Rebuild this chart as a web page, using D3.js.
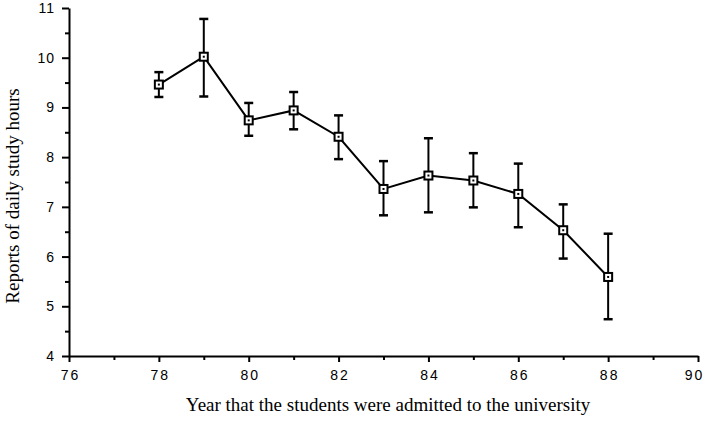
<!DOCTYPE html>
<html>
<head>
<meta charset="utf-8">
<script src="https://cdn.jsdelivr.net/npm/d3@7"></script>
<style>
  body { margin: 0; background: #fff; }
  .title { font-family: "Liberation Serif", "Times New Roman", serif; font-size: 19px; fill: #000; }
</style>
</head>
<body>
<div class="chart"></div>
<script>
const years = [78, 79, 80, 81, 82, 83, 84, 85, 86, 87, 88];
const means = [9.46, 10.02, 8.74, 8.94, 8.41, 7.36, 7.63, 7.53, 7.26, 6.53, 5.59];
const upper = [9.71, 10.78, 9.09, 9.31, 8.84, 7.92, 8.38, 8.08, 7.87, 7.05, 6.46];
const lower = [9.21, 9.22, 8.43, 8.56, 7.96, 6.83, 6.89, 6.99, 6.59, 5.96, 4.74];

const xMajor = [76, 78, 80, 82, 84, 86, 88, 90];
const xMinor = [77, 79, 81, 83, 85, 87, 89];
const yMajor = [4, 5, 6, 7, 8, 9, 10, 11];
const yMinor = [4.5, 5.5, 6.5, 7.5, 8.5, 9.5, 10.5];

const width = 706;
const height = 423;
const margin = { top: 8, right: 8, bottom: 67, left: 69 };

const data = years.map((y, i) => ({ year: y, mean: means[i], hi: upper[i], lo: lower[i] }));

const svg = d3
  .select(".chart")
  .append("svg")
  .attr("width", width)
  .attr("height", height);

const xScale = d3.scaleLinear().domain([76, 90]).range([margin.left, width - margin.right]);
const yScale = d3.scaleLinear().domain([4, 11]).range([height - margin.bottom, margin.top]);

// minor ticks first, then major ones with labels
svg.append("g")
  .attr("transform", `translate(0, ${height - margin.bottom})`)
  .call(d3.axisBottom(xScale).tickValues(xMinor).tickSize(4).tickFormat(""))
  .call((g) => g.select(".domain").remove());

svg.append("g")
  .attr("id", "x-axis")
  .attr("transform", `translate(0, ${height - margin.bottom})`)
  .call(d3.axisBottom(xScale).tickValues(xMajor).tickSize(6).tickSizeOuter(0).tickPadding(8).tickFormat(d3.format("d")));

svg.append("g")
  .attr("transform", `translate(${margin.left}, 0)`)
  .call(d3.axisLeft(yScale).tickValues(yMinor).tickSize(4).tickFormat(""))
  .call((g) => g.select(".domain").remove());

svg.append("g")
  .attr("id", "y-axis")
  .attr("transform", `translate(${margin.left}, 0)`)
  .call(d3.axisLeft(yScale).tickValues(yMajor).tickSize(7).tickSizeOuter(0).tickPadding(7).tickFormat(d3.format("d")));

svg.selectAll(".domain").attr("stroke-width", 2);
svg.selectAll(".tick line").attr("stroke-width", 2);
svg.selectAll(".tick text")
  .style("font-family", "'Liberation Sans', Arial, sans-serif")
  .style("font-size", "14px")
  .style("fill", "#000");
svg.selectAll("#x-axis .tick text")
  .style("letter-spacing", "2px")
  .attr("dx", (d) => (d === 90 ? "-4px" : "1px"));
svg.selectAll("#y-axis .tick text").style("letter-spacing", "1px");

// line
const line = d3.line().x((d) => xScale(d.year)).y((d) => yScale(d.mean));
svg.append("path")
  .datum(data)
  .attr("fill", "none")
  .attr("stroke", "#000")
  .attr("stroke-width", 2)
  .attr("d", line);

// error bars
const bars = svg.append("g").selectAll("g").data(data).enter().append("g");
bars.append("line")
  .attr("x1", (d) => xScale(d.year))
  .attr("x2", (d) => xScale(d.year))
  .attr("y1", (d) => yScale(d.hi))
  .attr("y2", (d) => yScale(d.lo))
  .attr("stroke", "#000")
  .attr("stroke-width", 2);
["hi", "lo"].forEach((k) => {
  bars.append("line")
    .attr("x1", (d) => xScale(d.year) - 4.5)
    .attr("x2", (d) => xScale(d.year) + 4.5)
    .attr("y1", (d) => yScale(d[k]))
    .attr("y2", (d) => yScale(d[k]))
    .attr("stroke", "#000")
    .attr("stroke-width", 2.5);
});

// square markers with a dot in the middle
svg.append("g").selectAll("rect").data(data).enter().append("rect")
  .attr("x", (d) => xScale(d.year) - 4)
  .attr("y", (d) => yScale(d.mean) - 4)
  .attr("width", 8)
  .attr("height", 8)
  .attr("fill", "#fff")
  .attr("stroke", "#000")
  .attr("stroke-width", 2);
svg.append("g").selectAll("rect").data(data).enter().append("rect")
  .attr("x", (d) => xScale(d.year) - 1)
  .attr("y", (d) => yScale(d.mean) - 1)
  .attr("width", 2)
  .attr("height", 2)
  .attr("fill", "#000");

// titles
svg.append("text")
  .attr("class", "title")
  .attr("x", 388)
  .attr("y", 411)
  .attr("text-anchor", "middle")
  .text("Year that the students were admitted to the university");

svg.append("text")
  .attr("class", "title")
  .attr("transform", "translate(19, 196) rotate(-90)")
  .attr("text-anchor", "middle")
  .text("Reports of daily study hours");
</script>
</body>
</html>
